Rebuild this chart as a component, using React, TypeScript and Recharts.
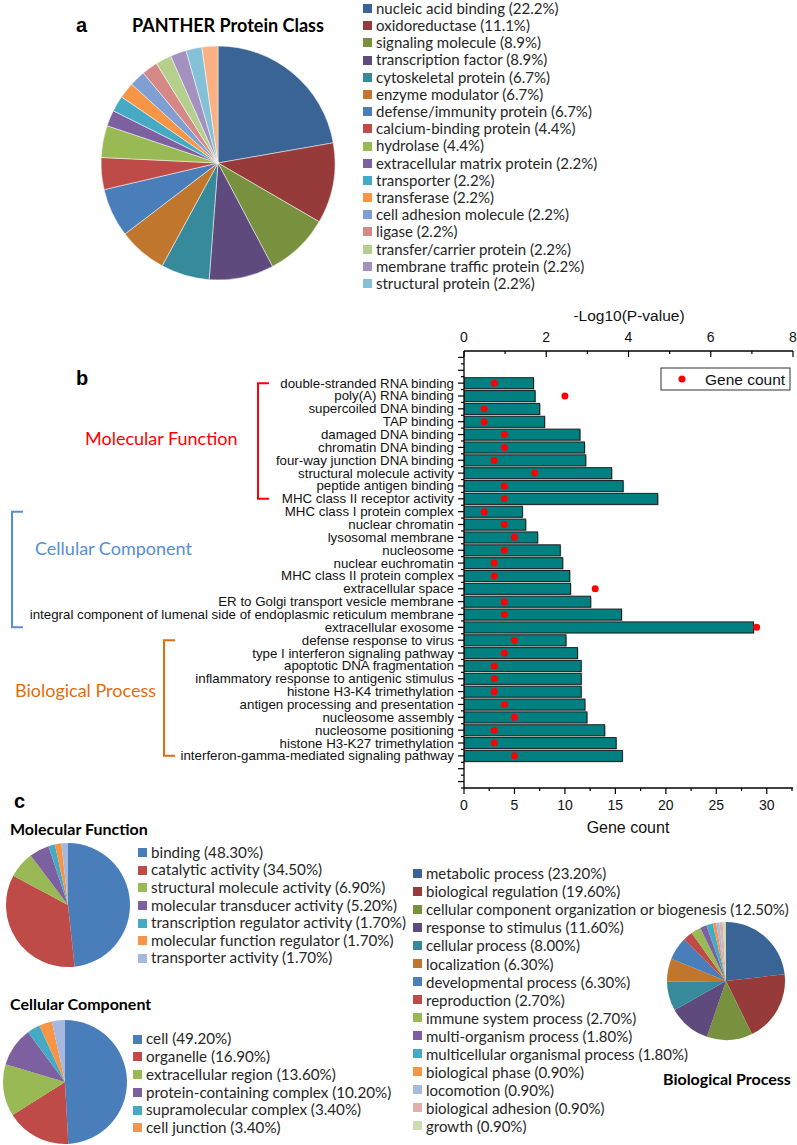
import React from "react";
import { PieChart, Pie, Cell, ComposedChart, Bar, Scatter, XAxis, YAxis } from "recharts";

const SANS = "'Liberation Sans', Arial, sans-serif";
const CAL = "Lato, 'Open Sans', sans-serif";
const TEXT = "#262626";

// ---- a: PANTHER protein class ----
const PANTHER_CLASSES = [
  "nucleic acid binding",
  "oxidoreductase",
  "signaling molecule",
  "transcription factor",
  "cytoskeletal protein",
  "enzyme modulator",
  "defense/immunity protein",
  "calcium-binding protein",
  "hydrolase",
  "extracellular matrix protein",
  "transporter",
  "transferase",
  "cell adhesion molecule",
  "ligase",
  "transfer/carrier protein",
  "membrane traffic protein",
  "structural protein",
  "other",
];
const PANTHER_PCT = [22.2, 11.1, 8.9, 8.9, 6.7, 6.7, 6.7, 4.4, 4.4, 2.2, 2.2, 2.2, 2.2, 2.2, 2.2, 2.2, 2.2, 2.2];
const PANTHER_COLORS = [
  "#3B6496", "#963B39", "#77913F", "#5F4A7E", "#368A9C", "#C1762E",
  "#4A7EBB", "#BE4B48", "#98B954", "#7D60A0", "#46AAC5", "#F69546",
  "#7F9ED1", "#D48987", "#B5CF8D", "#A392C0", "#84C1D6", "#F9B183",
];
// the last slice has no legend entry in the figure
const PANTHER_LEGEND_ROWS = 17;

// ---- b: GO enrichment ----
const GO_TERMS = [
  "double-stranded RNA binding",
  "poly(A) RNA binding",
  "supercoiled DNA binding",
  "TAP binding",
  "damaged DNA binding",
  "chromatin DNA binding",
  "four-way junction DNA binding",
  "structural molecule activity",
  "peptide antigen binding",
  "MHC class II receptor activity",
  "MHC class I protein complex",
  "nuclear chromatin",
  "lysosomal membrane",
  "nucleosome",
  "nuclear euchromatin",
  "MHC class II protein complex",
  "extracellular space",
  "ER to Golgi transport vesicle membrane",
  "integral component of lumenal side of endoplasmic reticulum membrane",
  "extracellular exosome",
  "defense response to virus",
  "type I interferon signaling pathway",
  "apoptotic DNA fragmentation",
  "inflammatory response to antigenic stimulus",
  "histone H3-K4 trimethylation",
  "antigen processing and presentation",
  "nucleosome assembly",
  "nucleosome positioning",
  "histone H3-K27 trimethylation",
  "interferon-gamma-mediated signaling pathway",
];
const NEG_LOG_P = [
  1.69, 1.73, 1.84, 1.96, 2.82, 2.93, 2.96, 3.59, 3.87, 4.71,
  1.42, 1.5, 1.79, 2.34, 2.4, 2.57, 2.59, 3.08, 3.83, 7.04,
  2.48, 2.76, 2.85, 2.85, 2.85, 2.94, 2.99, 3.42, 3.7, 3.85,
];
const GENE_COUNT = [
  3, 10, 2, 2, 4, 4, 3, 7, 4, 4,
  2, 4, 5, 4, 3, 3, 13, 4, 4, 29,
  5, 4, 3, 3, 3, 4, 5, 3, 3, 5,
];
const P_TICKS = [0, 1, 2, 3, 4, 5, 6, 7, 8];
const GENE_TICKS = [0, 2.5, 5, 7.5, 10, 12.5, 15, 17.5, 20, 22.5, 25, 27.5, 30, 32.5];
const GROUP_NAMES = ["Molecular Function", "Cellular Component", "Biological Process"];
const GROUP_RANGES = [[0, 9], [10, 19], [20, 29]];
const GROUP_COLORS = ["#FF0000", "#558ED5", "#E46C0A"];

// ---- c: GO slim pies ----
const MF_TERMS = [
  "binding", "catalytic activity", "structural molecule activity", "molecular transducer activity",
  "transcription regulator activity", "molecular function regulator", "transporter activity",
];
const MF_PCT = [48.3, 34.5, 6.9, 5.2, 1.7, 1.7, 1.7];
const MF_COLORS = ["#4A7EBB", "#BE4B48", "#98B954", "#7D60A0", "#46AAC5", "#F69546", "#A5B9DE"];

const CC_TERMS = [
  "cell", "organelle", "extracellular region", "protein-containing complex",
  "supramolecular complex", "cell junction", "other",
];
const CC_PCT = [49.2, 16.9, 13.6, 10.2, 3.4, 3.4, 3.4];
const CC_COLORS = ["#4A7EBB", "#BE4B48", "#98B954", "#7D60A0", "#46AAC5", "#F69546", "#A5B9DE"];
const CC_LEGEND_ROWS = 6;

const BP_TERMS = [
  "metabolic process", "biological regulation", "cellular component organization or biogenesis",
  "response to stimulus", "cellular process", "localization", "developmental process",
  "reproduction", "immune system process", "multi-organism process",
  "multicellular organismal process", "biological phase", "locomotion", "biological adhesion", "growth",
];
const BP_PCT = [23.2, 19.6, 12.5, 11.6, 8.0, 6.3, 6.3, 2.7, 2.7, 1.8, 1.8, 0.9, 0.9, 0.9, 0.9];
const BP_COLORS = [
  "#3B6496", "#963B39", "#77913F", "#5F4A7E", "#368A9C", "#C1762E", "#4A7EBB", "#BE4B48",
  "#98B954", "#7D60A0", "#46AAC5", "#F69546", "#A7B9E0", "#E1AFAE", "#C9DDB0",
];

// bar chart geometry
const CHART_TOP = 300;
const PLOT_TOP = 351;
const PLOT_BOTTOM = 788;
const Y_MIN = -2.5;
const Y_MAX = 31.5;
const SLOT = (PLOT_BOTTOM - PLOT_TOP) / (Y_MAX - Y_MIN);
const Y_TICKS = Array.from({ length: 34 }, (_, i) => i - 2);
const rowY = (i: number) => PLOT_TOP + (i - Y_MIN) * SLOT;

function ClassPie({ names, values, colors, cx, cy, r, stroke }: any) {
  const data = names.map((n: string, i: number) => ({ name: n, value: values[i] }));
  const size = 2 * r + 10;
  return (
    <div style={{ position: "absolute", left: cx - size / 2, top: cy - size / 2 }}>
      <PieChart width={size} height={size} margin={{ top: 0, right: 0, bottom: 0, left: 0 }}>
        <Pie
          data={data}
          dataKey="value"
          cx="50%"
          cy="50%"
          outerRadius={r}
          startAngle={90}
          endAngle={-270}
          stroke={stroke || "none"}
          strokeWidth={0.5}
          isAnimationActive={false}
        >
          {data.map((_: any, i: number) => (
            <Cell key={i} fill={colors[i]} />
          ))}
        </Pie>
      </PieChart>
    </div>
  );
}

function SwatchLegend({ names, values, colors, rows, left, top, rowH, fontSize, digits, gap }: any) {
  return (
    <div
      style={{
        position: "absolute",
        left,
        top: top - rowH / 2,
        fontFamily: CAL,
        fontSize,
        lineHeight: `${rowH}px`,
        color: TEXT,
      }}
    >
      {names.slice(0, rows).map((n: string, i: number) => (
        <div key={n} style={{ height: rowH, display: "flex", alignItems: "center", whiteSpace: "nowrap" }}>
          <span style={{ width: 9, height: 9, background: colors[i], marginRight: gap, flexShrink: 0 }} />
          {`${n} (${values[i].toFixed(digits)}%)`}
        </div>
      ))}
    </div>
  );
}

function CategoryTick(props: any) {
  const { x, y, payload } = props;
  const label = GO_TERMS[payload.value];
  return (
    <g>
      <line x1={x - 6} y1={y} x2={x} y2={y} stroke="#000" strokeWidth={1.2} />
      <line x1={x - 3} y1={y + SLOT / 2} x2={x} y2={y + SLOT / 2} stroke="#000" strokeWidth={1.2} />
      {label && (
        <text x={x - 10} y={y} dy={4.5} textAnchor="end" fontFamily={SANS} fontSize={13.3} fill="#111">
          {label}
        </text>
      )}
    </g>
  );
}

function TopTick(props: any) {
  const { x, y, payload } = props;
  const major = payload.value % 2 === 0;
  return (
    <g>
      <line x1={x} y1={y} x2={x} y2={y + (major ? 6 : 3)} stroke="#000" strokeWidth={1.2} />
      {major && (
        <text x={x} y={y - 9.5} textAnchor="middle" fontFamily={SANS} fontSize={14} fill="#111">
          {payload.value}
        </text>
      )}
    </g>
  );
}

function BottomTick(props: any) {
  const { x, y, payload } = props;
  const major = payload.value % 5 === 0;
  return (
    <g>
      <line x1={x} y1={y} x2={x} y2={y + (major ? 6 : 3)} stroke="#000" strokeWidth={1.2} />
      {major && (
        <text x={x} y={y + 21.5} textAnchor="middle" fontFamily={SANS} fontSize={14} fill="#111">
          {payload.value}
        </text>
      )}
    </g>
  );
}

function ShadowBar(props: any) {
  const { x, y, width, height } = props;
  if (!width || !height) return null;
  return (
    <g>
      <rect x={x + 1} y={y + 1} width={width} height={height} fill="#b8b8b8" />
      <rect x={x} y={y} width={width} height={height} fill="#008080" stroke="#1e1e1e" strokeWidth={1} />
    </g>
  );
}

function RedDot(props: any) {
  return <circle cx={props.cx} cy={props.cy} r={3.5} fill="#FF0000" />;
}

function GoChart() {
  const rows = GO_TERMS.map((t, i) => ({ idx: i, term: t, logp: NEG_LOG_P[i], genes: GENE_COUNT[i] }));
  return (
    <div style={{ position: "absolute", left: 0, top: CHART_TOP }}>
      <ComposedChart
        width={797}
        height={530}
        layout="vertical"
        data={rows}
        margin={{ top: PLOT_TOP - CHART_TOP - 30, right: 4, bottom: CHART_TOP + 530 - PLOT_BOTTOM - 30, left: 0 }}
      >
        <XAxis
          xAxisId="p"
          orientation="top"
          type="number"
          dataKey="logp"
          domain={[0, 8]}
          ticks={P_TICKS}
          interval={0}
          height={30}
          tickSize={0}
          tickMargin={0}
          tickLine={false}
          tick={(p: any) => <TopTick {...p} />}
          axisLine={{ stroke: "#000", strokeWidth: 1.3 }}
          allowDataOverflow
        />
        <XAxis
          xAxisId="g"
          orientation="bottom"
          type="number"
          dataKey="genes"
          domain={[0, 32.6]}
          ticks={GENE_TICKS}
          interval={0}
          height={30}
          tickSize={0}
          tickMargin={0}
          tickLine={false}
          tick={(p: any) => <BottomTick {...p} />}
          axisLine={{ stroke: "#000", strokeWidth: 1.3 }}
          allowDataOverflow
        />
        <YAxis
          type="number"
          dataKey="idx"
          domain={[Y_MIN, Y_MAX]}
          ticks={Y_TICKS}
          interval={0}
          width={464}
          tickSize={0}
          tickMargin={0}
          tickLine={false}
          tick={(p: any) => <CategoryTick {...p} />}
          axisLine={{ stroke: "#000", strokeWidth: 1.3 }}
          allowDataOverflow
        />
        <Bar xAxisId="p" dataKey="logp" barSize={11} shape={ShadowBar} isAnimationActive={false} />
        <Scatter xAxisId="g" dataKey="genes" shape={RedDot} isAnimationActive={false} />
      </ComposedChart>
    </div>
  );
}

function Bracket({ x, y1, y2, arm, color }: any) {
  return (
    <path
      d={`M ${x + arm} ${y1} H ${x} V ${y2} H ${x + arm}`}
      fill="none"
      stroke={color}
      strokeWidth={2}
    />
  );
}

export default function App() {
  const groupLabelPos = [
    { x: 85, y: 445, bx: 258 },
    { x: 35, y: 555, bx: 12 },
    { x: 15, y: 697, bx: 164 },
  ];
  return (
    <div
      style={{
        position: "absolute",
        left: 0,
        top: 0,
        width: 797,
        height: 1145,
        background: "#fff",
        overflow: "hidden",
      }}
    >
      {/* a */}
      <ClassPie names={PANTHER_CLASSES} values={PANTHER_PCT} colors={PANTHER_COLORS} cx={217.5} cy={163} r={117} stroke="#ffffff" />
      <SwatchLegend
        names={PANTHER_CLASSES}
        values={PANTHER_PCT}
        colors={PANTHER_COLORS}
        rows={PANTHER_LEGEND_ROWS}
        left={363}
        top={8.5}
        rowH={17.2}
        fontSize={15}
        digits={1}
        gap={4}
      />

      {/* b */}
      <GoChart />

      {/* c */}
      <ClassPie names={MF_TERMS} values={MF_PCT} colors={MF_COLORS} cx={67.5} cy={905} r={62} />
      <SwatchLegend names={MF_TERMS} values={MF_PCT} colors={MF_COLORS} rows={7} left={138} top={852.7} rowH={17.6} fontSize={15.2} digits={2} gap={4} />
      <ClassPie names={CC_TERMS} values={CC_PCT} colors={CC_COLORS} cx={64.5} cy={1082} r={62} />
      <SwatchLegend names={CC_TERMS} values={CC_PCT} colors={CC_COLORS} rows={CC_LEGEND_ROWS} left={133} top={1039.3} rowH={17.7} fontSize={15.2} digits={2} gap={4} />
      <ClassPie names={BP_TERMS} values={BP_PCT} colors={BP_COLORS} cx={726} cy={981} r={59} />
      <SwatchLegend names={BP_TERMS} values={BP_PCT} colors={BP_COLORS} rows={15} left={413} top={873.3} rowH={18.05} fontSize={15} digits={2} gap={4} />

      <svg width={797} height={1145} style={{ position: "absolute", left: 0, top: 0, pointerEvents: "none" }}>
        <text x={76} y={32} fontFamily={SANS} fontWeight="bold" fontSize={20} fill="#000">a</text>
        <text x={132} y={32} fontFamily={CAL} fontWeight="bold" fontSize={18} fill="#000">PANTHER Protein Class</text>

        <text x={76} y={385} fontFamily={SANS} fontWeight="bold" fontSize={20} fill="#000">b</text>
        <text x={629} y={321} textAnchor="middle" fontFamily={SANS} fontSize={15.5} fill="#111">-Log10(P-value)</text>
        <text x={628} y={833} textAnchor="middle" fontFamily={SANS} fontSize={16} fill="#111">Gene count</text>

        {GROUP_NAMES.map((g, k) => (
          <g key={g}>
            <text x={groupLabelPos[k].x} y={groupLabelPos[k].y} fontFamily={CAL} fontSize={18} fill={GROUP_COLORS[k]}>
              {g}
            </text>
            <Bracket
              x={groupLabelPos[k].bx}
              y1={rowY(GROUP_RANGES[k][0])}
              y2={rowY(GROUP_RANGES[k][1])}
              arm={11}
              color={GROUP_COLORS[k]}
            />
          </g>
        ))}

        <rect x={661} y={368} width={129} height={22} fill="#fff" stroke="#333" strokeWidth={1} />
        <circle cx={682} cy={379} r={3.5} fill="#FF0000" />
        <text x={705} y={385} fontFamily={SANS} fontSize={15.5} fill="#111">Gene count</text>

        <text x={14} y={808} fontFamily={SANS} fontWeight="bold" fontSize={20} fill="#000">c</text>
        <text x={10} y={835} fontFamily={CAL} fontWeight="bold" fontSize={16} fill="#000">Molecular Function</text>
        <text x={10} y={1010} fontFamily={CAL} fontWeight="bold" fontSize={16} fill="#000">Cellular Component</text>
        <text x={663} y={1085} fontFamily={CAL} fontWeight="bold" fontSize={16} fill="#000">Biological Process</text>
      </svg>
    </div>
  );
}
